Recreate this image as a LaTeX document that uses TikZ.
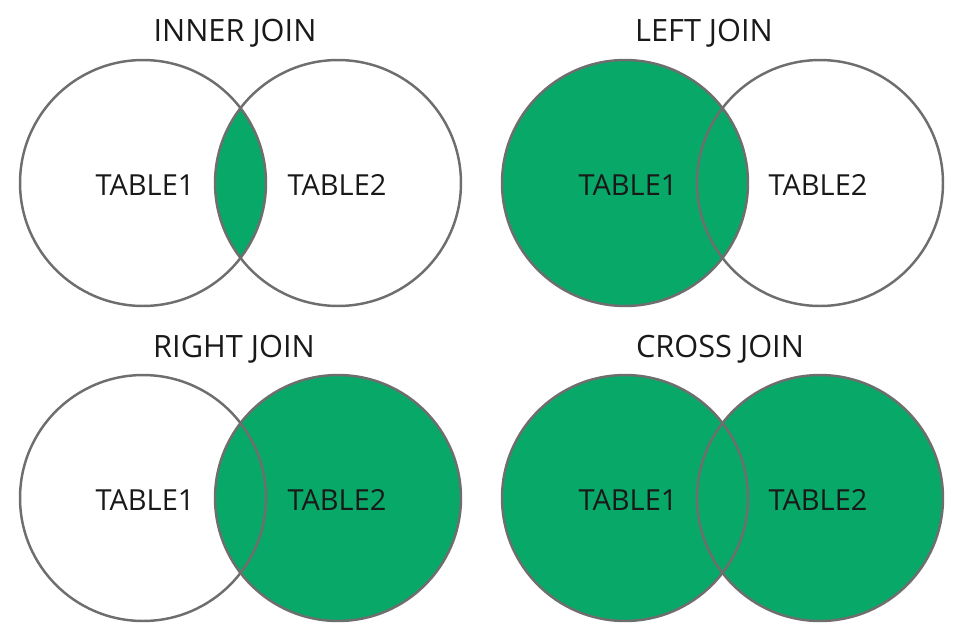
\documentclass[tikz,border=0pt]{standalone}
\usepackage{fontspec}
\setmainfont{Open Sans}
\usepackage{xcolor}
\usepackage{tikz}
\definecolor{joingreen}{RGB}{8,168,104}
\definecolor{vennline}{RGB}{110,110,110}
\tikzset{every node/.append style={font=\fontsize{16.5}{19}\selectfont, text=black!90}}

\begin{document}
\begin{tikzpicture}[x=0.02cm, y=-0.02cm]
    \tikzset{
        venn/.style={draw=vennline, line width=1.4pt},
        joinfill/.style={fill=joingreen},
        jointitle/.style={anchor=center, font=\fontsize{17.5}{20}\selectfont},
        tablename/.style={anchor=center}
    }
    \useasboundingbox (0,0) rectangle (960,640);
    % inner join
    \coordinate (ia) at (143,183);
    \coordinate (ib) at (338,183);
    \begin{scope}
        \clip (ia) circle (2.46cm);
        \fill[joinfill] (ib) circle (2.46cm);
    \end{scope}
    \draw[venn] (ia) circle (2.46cm);
    \draw[venn] (ib) circle (2.46cm);
    \node[jointitle] (innertitle) at (235,33) {INNER JOIN};
    \node[tablename] (inner1) at (145,185) {TABLE1};
    \node[tablename] (inner2) at (337,185) {TABLE2};
    % left join
    \coordinate (la) at (625,183);
    \coordinate (lb) at (820,183);
    \fill[joinfill] (la) circle (2.46cm);
    \draw[venn] (la) circle (2.46cm);
    \draw[venn] (lb) circle (2.46cm);
    \node[jointitle] (lefttitle) at (704,33) {LEFT JOIN};
    \node[tablename] (left1) at (628,185) {TABLE1};
    \node[tablename] (left2) at (818,185) {TABLE2};
    % right join
    \coordinate (ra) at (143,498);
    \coordinate (rb) at (338,498);
    \fill[joinfill] (rb) circle (2.46cm);
    \draw[venn] (ra) circle (2.46cm);
    \draw[venn] (rb) circle (2.46cm);
    \node[jointitle] (righttitle) at (234,349) {RIGHT JOIN};
    \node[tablename] (right1) at (145,500) {TABLE1};
    \node[tablename] (right2) at (337,500) {TABLE2};
    % cross join
    \coordinate (ca) at (625,498);
    \coordinate (cb) at (820,498);
    \fill[joinfill] (ca) circle (2.46cm);
    \fill[joinfill] (cb) circle (2.46cm);
    \draw[venn] (ca) circle (2.46cm);
    \draw[venn] (cb) circle (2.46cm);
    \node[jointitle] (crosstitle) at (720,349) {CROSS JOIN};
    \node[tablename] (cross1) at (628,500) {TABLE1};
    \node[tablename] (cross2) at (818,500) {TABLE2};
\end{tikzpicture}
\end{document}
